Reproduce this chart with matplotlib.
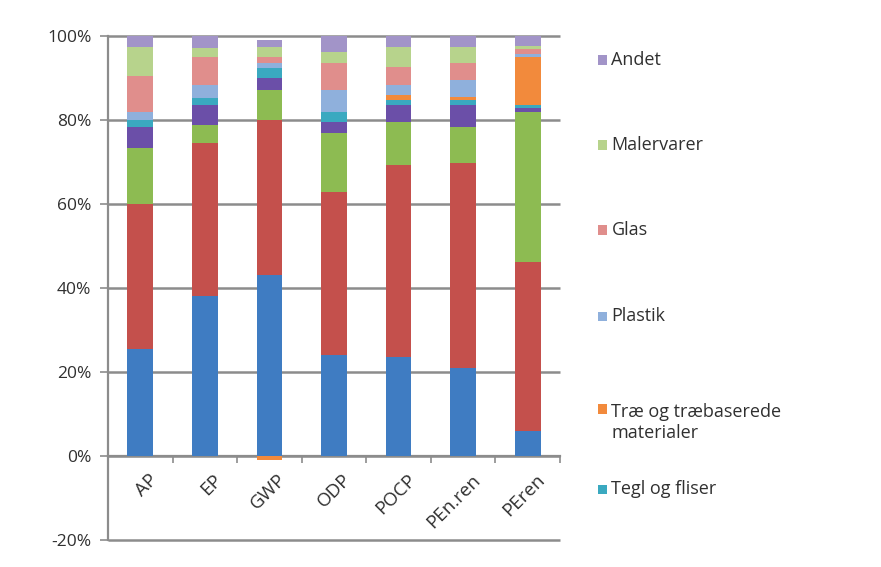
import numpy as np
import matplotlib
matplotlib.use("Agg")
import matplotlib.pyplot as plt
from matplotlib.patches import Rectangle
from matplotlib.ticker import PercentFormatter

plt.rcParams['font.family'] = ['Open Sans', 'DejaVu Sans']
plt.rcParams['axes.unicode_minus'] = False

# impact categories along the x axis
categories = ['AP', 'EP', 'GWP', 'ODP', 'POCP', 'PEn.ren', 'PEren']

# material shares (%) stacked from the bottom up
beton = [25.5, 38.0, 43.0, 24.0, 23.5, 21.0, 6.0]
metal = [34.5, 36.5, 37.0, 38.9, 45.8, 48.8, 40.2]
isolering = [13.3, 4.3, 7.1, 14.0, 10.2, 8.5, 35.7]
gips = [5.0, 4.8, 2.9, 2.6, 4.1, 5.3, 1.0]
tegl = [1.7, 1.6, 2.4, 2.4, 1.2, 1.2, 0.7]
trae = [0.0, 0.0, -1.0, 0.0, 1.2, 0.7, 11.4]
plastik = [2.0, 3.1, 1.2, 5.2, 2.3, 4.0, 0.6]
glas = [8.5, 6.7, 1.4, 6.5, 4.3, 4.1, 1.3]
malervarer = [7.0, 2.1, 2.4, 2.6, 4.8, 3.8, 0.7]
andet = [2.4, 2.9, 1.6, 3.8, 2.6, 2.6, 2.4]

series = [
    ('Beton', beton, '#3f7cc2'),
    ('Metal', metal, '#c4504c'),
    ('Isolering', isolering, '#8dbb52'),
    ('Gips', gips, '#6b4fa8'),
    ('Tegl og fliser', tegl, '#3aa9c0'),
    ('Træ og træbaserede\nmaterialer', trae, '#f28a3c'),
    ('Plastik', plastik, '#8fb0dc'),
    ('Glas', glas, '#e08e8c'),
    ('Malervarer', malervarer, '#b7d38c'),
    ('Andet', andet, '#a294c8'),
]
legend_names = ['Andet', 'Malervarer', 'Glas', 'Plastik',
                'Træ og træbaserede\nmaterialer', 'Tegl og fliser']

fig = plt.figure(figsize=(8.81, 5.67), dpi=100)
ax = fig.add_axes([0.1226, 0.0476, 0.5130, 0.8889])

x = np.arange(len(categories))
pos_base = np.zeros(len(categories))
neg_base = np.zeros(len(categories))
colors = {}
for name, vals, col in series:
    v = np.array(vals) / 100.0
    bottom = np.where(v >= 0, pos_base, neg_base)
    ax.bar(x, v, width=0.4, bottom=bottom, color=col, linewidth=0, zorder=3)
    pos_base += np.clip(v, 0, None)
    neg_base += np.clip(v, None, 0)
    colors[name] = col

yticks = [-0.2, 0.0, 0.2, 0.4, 0.6, 0.8, 1.0]
ax.set_xlim(-0.5, len(categories) - 0.5)
ax.set_ylim(-0.2, 1.0)
ax.set_yticks(yticks)
ax.yaxis.set_major_formatter(PercentFormatter(1.0, decimals=0))
# horizontal gridlines
for yv in yticks:
    ax.plot([-0.5, len(categories) - 0.5], [yv, yv], color='#8c8c8c',
            linewidth=1.8, zorder=2, solid_capstyle='butt', clip_on=False)
ax.tick_params(axis='y', length=6, width=1.2, color='#8c8c8c',
               labelsize=12.5, labelcolor='#303030', pad=6)

# category axis crosses at zero, ticks between categories
ax.spines['bottom'].set_position(('data', 0))
ax.spines['bottom'].set_color('#8c8c8c')
ax.spines['bottom'].set_linewidth(1.6)
ax.set_xticks(np.arange(-0.5, len(categories), 1.0))
ax.set_xticklabels([])
ax.tick_params(axis='x', length=5, width=1.2, color='#8c8c8c', direction='out')
for spine in ['top', 'right']:
    ax.spines[spine].set_visible(False)
ax.spines['left'].set_color('#8c8c8c')
ax.spines['left'].set_linewidth(1.6)

for i, lab in enumerate(categories):
    ax.text(i + 0.12, -0.035, lab, rotation=45, ha='right', va='top',
            rotation_mode='anchor', fontsize=13.5, color='#303030')

# legend entries on the right
legend_y = [0.895, 0.745, 0.595, 0.442, 0.255, 0.137]
for name, ly in zip(legend_names, legend_y):
    nlines = name.count('\n')
    sy = ly + nlines * 0.024
    fig.patches.append(Rectangle((0.679, sy - 0.009), 0.010, 0.017,
                                 transform=fig.transFigure,
                                 facecolor=colors[name], edgecolor='none'))
    fig.text(0.694, ly, name, ha='left', va='center', fontsize=13,
             color='#303030', linespacing=1.25)

fig.savefig('out.png', dpi=100)
